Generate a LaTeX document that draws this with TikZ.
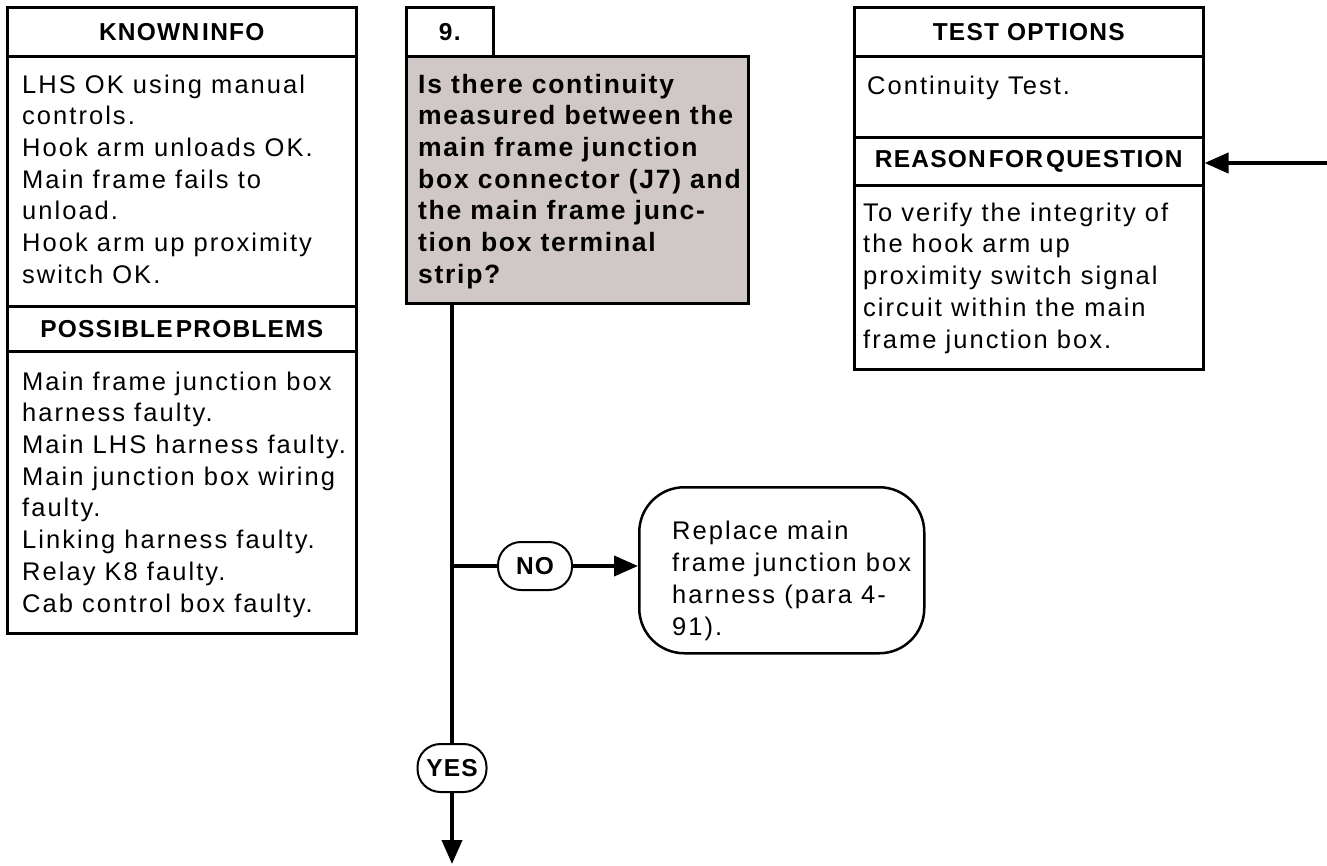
\documentclass[tikz,border=0pt]{standalone}
\usepackage{fontspec}
\setmainfont{Liberation Sans}[LetterSpace=8]
\newfontfamily\qfont{Liberation Sans}[LetterSpace=6.5]
\newfontfamily\hfont{Liberation Sans}[LetterSpace=5]
\usetikzlibrary{arrows.meta}
\definecolor{qgray}{RGB}{208,200,198}
\tikzset{
  head/.style={draw,line width=2.5pt,anchor=north west,inner sep=0pt,
    font=\hfont\bfseries\fontsize{24.5}{28}\selectfont},
  pane/.style={draw,line width=2.5pt,anchor=north west,inner sep=0pt},
  body/.style={anchor=base west,align=left,inner sep=0pt,
    font=\fontsize{25.5}{31.7}\selectfont},
  pill/.style={draw,line width=2pt,rounded corners=23pt,inner sep=0pt,
    minimum height=48pt,font=\hfont\bfseries\fontsize{24.5}{28}\selectfont},
  flow/.style={line width=4pt}
}
\begin{document}
\begin{tikzpicture}[x=1pt,y=-1pt,>={Stealth[inset=0pt,length=24pt,width=20pt]}]
\useasboundingbox (0,0) rectangle (1327,865);
% left column (base of a text node = its last line)
\node[head,minimum width=349pt,minimum height=49pt] (known) at (6,6) {KNOWN\hspace{3pt}INFO};
\node[pane,minimum width=349pt,minimum height=250pt] (knownbody) at (6,55) {};
\node[head,minimum width=349pt,minimum height=45pt] (probs) at (6,305) {POSSIBLE\hspace{3pt}PROBLEMS};
\node[pane,minimum width=349pt,minimum height=282pt] (probsbody) at (6,350) {};
\node[body] (knowntxt) at (22,283.2) {LHS OK using manual\\controls.\\Hook arm unloads OK.\\Main frame fails to\\unload.\\Hook arm up proximity\\switch OK.};
\node[body] (probstxt) at (22,612) {Main frame junction box\\harness faulty.\\Main LHS harness faulty.\\Main junction box wiring\\faulty.\\Linking harness faulty.\\Relay K8 faulty.\\Cab control box faulty.};
% question
\node[head,minimum width=87pt,minimum height=49pt] (num) at (405,6) {9.};
\node[pane,fill=qgray,minimum width=342pt,minimum height=247pt] (quest) at (405,55) {};
\node[body,font=\qfont\bfseries\fontsize{26.5}{31.7}\selectfont] (questtxt) at (418,283.2) {Is there continuity\\measured between the\\main frame junction\\box connector (J7) and\\the main frame junc-\\tion box terminal\\strip?};
% right column
\node[head,minimum width=349pt,minimum height=49pt] (tests) at (853,6) {TEST OPTIONS};
\node[pane,minimum width=349pt,minimum height=81pt] (testsbody) at (853,55) {};
\node[head,minimum width=349pt,minimum height=48pt] (reason) at (853,136) {REASON\hspace{3pt}FOR\hspace{3pt}QUESTION};
\node[pane,minimum width=349pt,minimum height=184pt] (reasonbody) at (853,184) {};
\node[body] (teststxt) at (867,94) {Continuity Test.};
\node[body] (reasontxt) at (863,348) {To verify the integrity of\\the hook arm up\\proximity switch signal\\circuit within the main\\frame junction box.};
% answers
\node[pill,minimum width=74pt] (no) at (535,566) {NO};
\node[pill,minimum width=69pt] (yes) at (452,768) {YES};
\node[draw,line width=2.5pt,rounded corners=45pt,anchor=north west,minimum width=285pt,minimum height=166pt] (repl) at (638,486) {};
\node[body] (repltxt) at (672,635) {Replace main\\frame junction box\\harness (para 4-\\91).};
% connectors
\coordinate (qout) at (452,302);
\coordinate (split) at (452,566);
\coordinate (down) at (452,864);
\coordinate (src) at (1327,163);
\draw[flow] (qout) -- (yes.north);
\draw[flow,->] (yes.south) -- (down);
\draw[flow] (split) -- (no.west);
\draw[flow,->] (no.east) -- (no.east -| repl.west);
\draw[flow,->] (src) -- (reason.east |- src);
\end{tikzpicture}
\end{document}
